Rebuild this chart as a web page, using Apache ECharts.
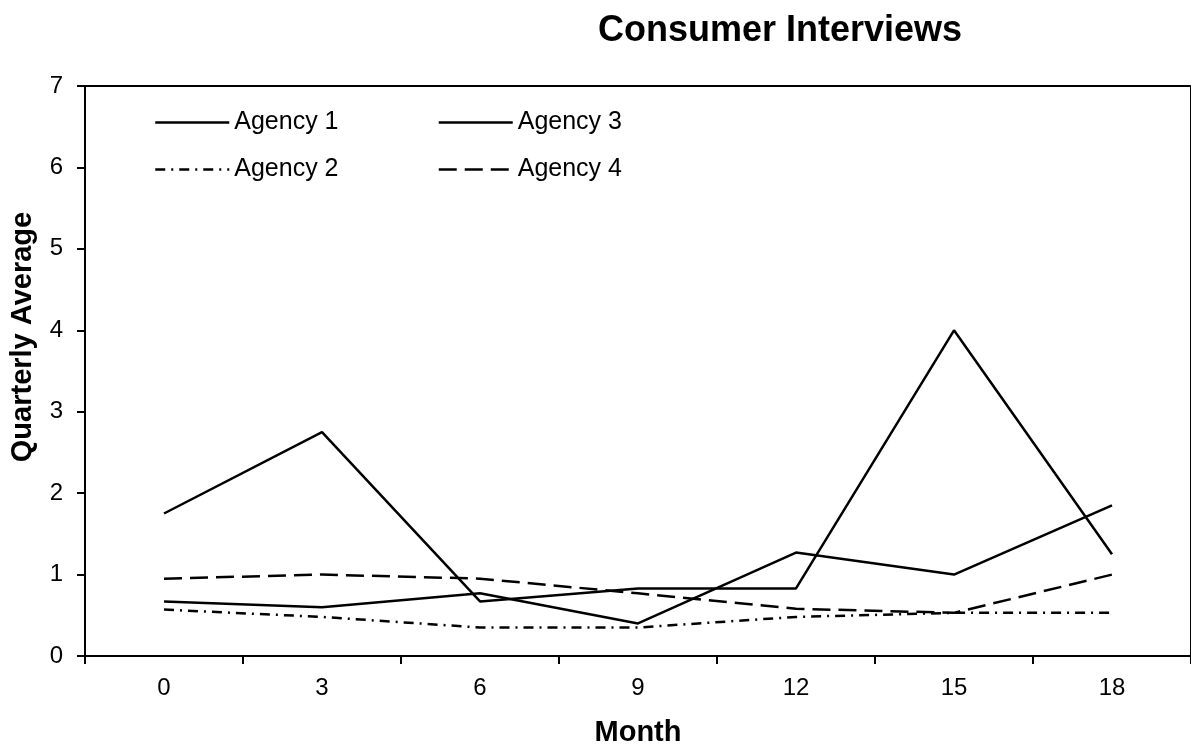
<!DOCTYPE html>
<html>
<head>
<meta charset="utf-8">
<title>Consumer Interviews</title>
<script src="https://cdn.jsdelivr.net/npm/echarts@6/dist/echarts.min.js"></script>
<style>
  html, body { margin: 0; padding: 0; background: #fff; }
  #chart { width: 1191px; height: 752px; }
</style>
</head>
<body>
<div id="chart"></div>
<script>
// Months since start (category labels)
const months = ['0', '3', '6', '9', '12', '15', '18'];
const yTicks = [0, 1, 2, 3, 4, 5, 6, 7];

// Quarterly averages per agency
const agency1 = [1.75, 2.75, 0.67, 0.83, 0.83, 4.0, 1.25];
const agency2 = [0.57, 0.48, 0.35, 0.35, 0.48, 0.53, 0.53];
const agency3 = [0.67, 0.60, 0.77, 0.40, 1.27, 1.0, 1.85];
const agency4 = [0.95, 1.0, 0.95, 0.77, 0.58, 0.53, 1.0];

const FONT = "'Liberation Sans', Arial, sans-serif";
const chart = echarts.init(document.getElementById('chart'), null, { renderer: 'canvas' });

function lineSeries(name, data, type) {
  return {
    name: name,
    type: 'line',
    data: data,
    symbol: 'none',
    animation: false,
    lineStyle: { color: '#000', width: 2.5, type: type },
    itemStyle: { color: '#000' }
  };
}

const legendText = { fontFamily: FONT, fontSize: 25, color: '#000' };
const legendBase = {
  left: 149,
  itemWidth: 74, itemHeight: 14, itemGap: 99,
  textStyle: legendText,
  // line sample only, no marker
  itemStyle: { color: 'rgba(0,0,0,0)', borderWidth: 0 },
  lineStyle: { width: 2.5 },
  selectedMode: false
};

chart.setOption({
  backgroundColor: '#fff',
  animation: false,
  title: {
    text: 'Consumer Interviews',
    left: 775,
    top: 8,
    textAlign: 'center',
    textStyle: { fontFamily: FONT, fontSize: 36, fontWeight: 'bold', color: '#000' }
  },
  legend: [
    Object.assign({ data: ['Agency 1', 'Agency 3'], top: 105 }, legendBase),
    Object.assign({ data: ['Agency 2', 'Agency 4'], top: 152 }, legendBase)
  ],
  grid: {
    left: 84.5, right: -3, top: 86, bottom: 91,
    show: true, borderColor: '#000', borderWidth: 2,
    containLabel: false
  },
  xAxis: {
    type: 'category',
    data: months,
    boundaryGap: true,
    name: 'Month',
    nameLocation: 'middle',
    nameGap: 62,
    nameTextStyle: { fontFamily: FONT, fontSize: 29, fontWeight: 'bold', color: '#000' },
    axisLine: { lineStyle: { color: '#000', width: 2 } },
    axisTick: { show: true, length: 8, inside: false, lineStyle: { color: '#000', width: 2 } },
    axisLabel: { fontFamily: FONT, fontSize: 24, color: '#000', margin: 20 },
    splitLine: { show: false }
  },
  yAxis: {
    type: 'value',
    min: yTicks[0],
    max: yTicks[yTicks.length - 1],
    interval: 1,
    name: 'Quarterly Average',
    nameLocation: 'middle',
    nameGap: 48,
    nameTextStyle: { fontFamily: FONT, fontSize: 29, fontWeight: 'bold', color: '#000', padding: [0, 0, 0, 68] },
    axisLine: { show: true, lineStyle: { color: '#000', width: 2 } },
    axisTick: { show: true, length: 8, inside: false, lineStyle: { color: '#000', width: 2 } },
    axisLabel: { fontFamily: FONT, fontSize: 24, color: '#000', margin: 22 },
    splitLine: { show: false }
  },
  series: [
    lineSeries('Agency 1', agency1, 'solid'),
    lineSeries('Agency 2', agency2, [10, 6, 2, 6]),
    lineSeries('Agency 3', agency3, 'solid'),
    lineSeries('Agency 4', agency4, [18, 8])
  ]
});
</script>
</body>
</html>
